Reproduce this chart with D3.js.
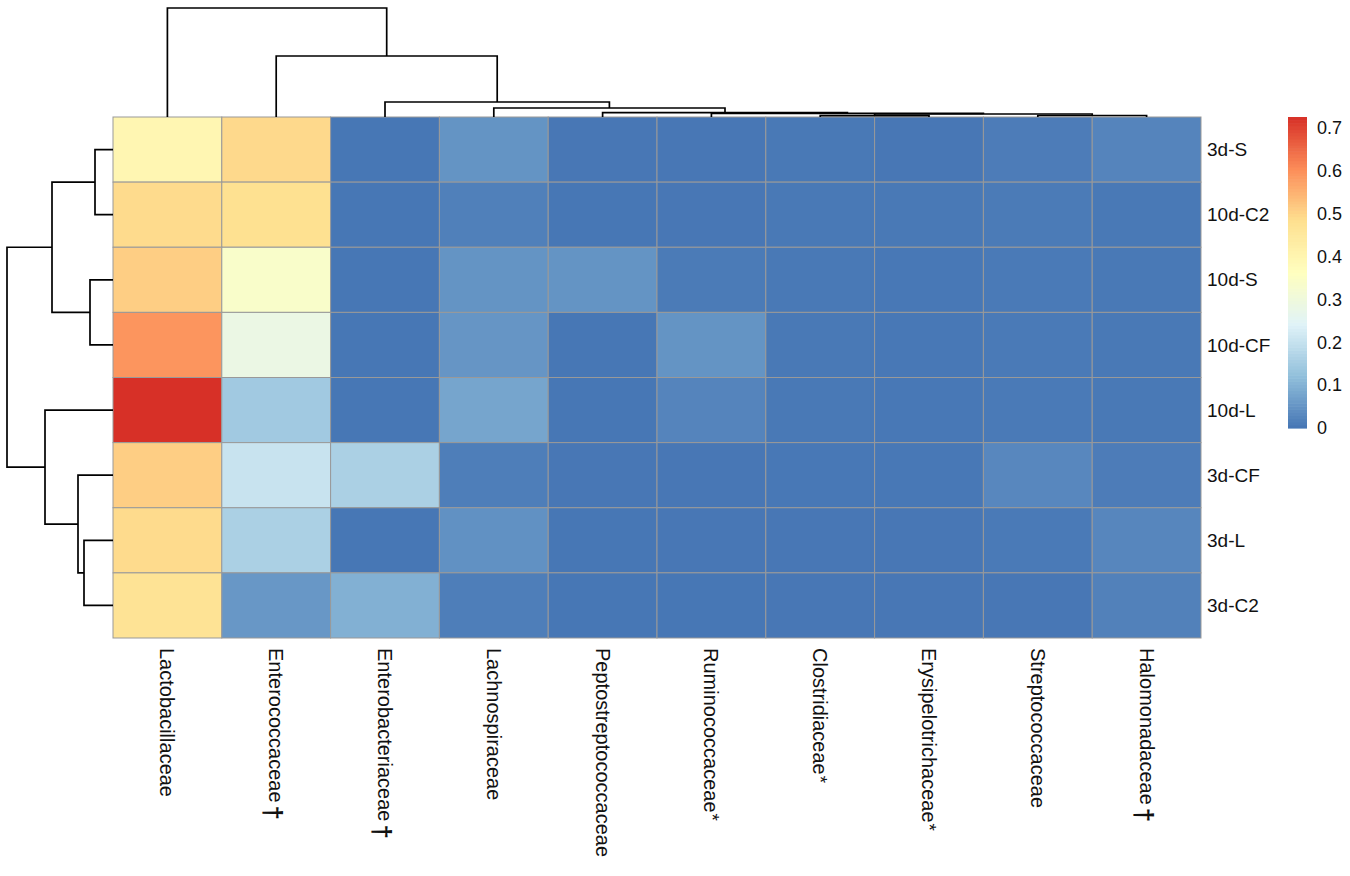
<!DOCTYPE html>
<html>
<head>
<meta charset="utf-8">
<script src="https://cdn.jsdelivr.net/npm/d3@7"></script>
<style>
  body { margin: 0; background: #fff; }
  text { font-family: "Liberation Sans", Arial, sans-serif; fill: #111; }
</style>
</head>
<body>
<svg id="chart"></svg>
<script>
// DATA
const colNames = ["Lactobacillaceae", "Enterococcaceae", "Enterobacteriaceae", "Lachnospiraceae",
  "Peptostreptococcaceae", "Ruminococcaceae", "Clostridiaceae", "Erysipelotrichaceae",
  "Streptococcaceae", "Halomonadaceae"];
const colMarks = ["", "†", "†", "", "", "*", "*", "*", "", "†"];
const rowNames = ["3d-S", "10d-C2", "10d-S", "10d-CF", "10d-L", "3d-CF", "3d-L", "3d-C2"];

const values = [
  [0.397, 0.493, 0.003, 0.050, 0.004, 0.004, 0.006, 0.004, 0.012, 0.025],
  [0.490, 0.480, 0.003, 0.018, 0.003, 0.004, 0.006, 0.006, 0.010, 0.006],
  [0.510, 0.340, 0.003, 0.050, 0.050, 0.010, 0.006, 0.005, 0.008, 0.006],
  [0.593, 0.285, 0.003, 0.052, 0.003, 0.050, 0.006, 0.005, 0.008, 0.006],
  [0.725, 0.145, 0.003, 0.078, 0.003, 0.025, 0.006, 0.005, 0.008, 0.006],
  [0.510, 0.205, 0.160, 0.015, 0.004, 0.004, 0.005, 0.005, 0.030, 0.012],
  [0.490, 0.160, 0.003, 0.045, 0.003, 0.004, 0.004, 0.004, 0.008, 0.028],
  [0.470, 0.055, 0.097, 0.015, 0.003, 0.003, 0.004, 0.004, 0.004, 0.020]
];

// hclust style merges: negative = leaf (1-based, display order), positive = earlier merge
const colMerge = [[-9, -10], [-7, -8], [2, 1], [-6, 3], [-5, 4], [-4, 5], [-3, 6], [-2, 7], [-1, 8]];
const colHeights = [0.015, 0.013, 0.03, 0.037, 0.043, 0.09, 0.15, 0.61, 1.09];
const rowMerge = [[-1, -2], [-3, -4], [-7, -8], [-6, 3], [1, 2], [-5, 4], [5, 6]];
const rowHeights = [0.18, 0.23, 0.29, 0.35, 0.61, 0.68, 1.06];

const legendTicks = [0, 0.1, 0.2, 0.3, 0.4, 0.5, 0.6, 0.7];
const palette = ["#4575B4", "#91BFDB", "#E0F3F8", "#FFFFBF", "#FEE090", "#FC8D59", "#D73027"];

// LAYOUT
const W = 1350, H = 876;
const grid = { left: 113, right: 1201, top: 117, bottom: 638 };

const svg = d3.select("#chart").attr("width", W).attr("height", H);

const x = d3.scaleBand().domain(colNames).range([grid.left, grid.right]);
const y = d3.scaleBand().domain(rowNames).range([grid.top, grid.bottom]);

const vmax = d3.max(values.flat());
const color = d3.scaleLinear()
  .domain(palette.map((c, i) => i * vmax / (palette.length - 1)))
  .range(palette)
  .interpolate(d3.interpolateRgb)
  .clamp(true);

// CELLS
const cells = [];
values.forEach((row, i) => row.forEach((v, j) => cells.push({ r: rowNames[i], c: colNames[j], v })));

svg.append("g").selectAll("rect")
  .data(cells)
  .join("rect")
  .attr("x", d => x(d.c))
  .attr("y", d => y(d.r))
  .attr("width", x.bandwidth())
  .attr("height", y.bandwidth())
  .attr("fill", d => color(d.v))
  .attr("stroke", "#999999")
  .attr("stroke-width", 1);

// DENDROGRAMS
function buildTree(merge, heights, leafPos) {
  const nodes = [];
  const get = id => id < 0 ? { pos: leafPos[-id - 1], h: 0 } : nodes[id - 1];
  merge.forEach((m, i) => {
    const a = get(m[0]), b = get(m[1]);
    nodes.push({ a, b, h: heights[i], pos: (a.pos + b.pos) / 2 });
  });
  return nodes;
}

// column tree (top)
const colH = d3.scaleLinear().domain([0, d3.max(colHeights)]).range([grid.top, 8]);
const colTree = buildTree(colMerge, colHeights, colNames.map(c => x(c) + x.bandwidth() / 2));
svg.append("g").selectAll("path")
  .data(colTree)
  .join("path")
  .attr("fill", "none")
  .attr("stroke", "#000")
  .attr("stroke-width", 1.7)
  .attr("d", n => `M${n.a.pos},${colH(n.a.h)}V${colH(n.h)}H${n.b.pos}V${colH(n.b.h)}`);

// row tree (left)
const rowH = d3.scaleLinear().domain([0, d3.max(rowHeights)]).range([grid.left, 7]);
const rowTree = buildTree(rowMerge, rowHeights, rowNames.map(r => y(r) + y.bandwidth() / 2));
svg.append("g").selectAll("path")
  .data(rowTree)
  .join("path")
  .attr("fill", "none")
  .attr("stroke", "#000")
  .attr("stroke-width", 1.7)
  .attr("d", n => `M${rowH(n.a.h)},${n.a.pos}H${rowH(n.h)}V${n.b.pos}H${rowH(n.b.h)}`);

// ROW LABELS
svg.append("g").selectAll("text")
  .data(rowNames)
  .join("text")
  .attr("x", grid.right + 6)
  .attr("y", d => y(d) + y.bandwidth() / 2)
  .attr("dy", "0.35em")
  .attr("font-size", "19px")
  .text(d => d);

// COLUMN LABELS (rotated, reading downwards)
const colLabelTop = 648;
const colG = svg.append("g");
colNames.forEach((name, j) => {
  const cx = x(name) + x.bandwidth() / 2;
  const g = colG.append("g").attr("transform", `translate(${cx},${colLabelTop}) rotate(90)`);
  const t = g.append("text")
    .attr("dy", "0.35em")
    .attr("font-size", "20px")
    .text(name);
  const len = t.node().getComputedTextLength();
  const mark = colMarks[j];
  if (mark === "*") {
    g.append("text")
      .attr("x", len + 1)
      .attr("dy", "0.3em")
      .attr("font-size", "19px")
      .text("*");
  } else if (mark) {
    g.append("text")
      .attr("x", len + 3)
      .attr("dy", "0.45em")
      .attr("font-size", "26px")
      .attr("font-weight", "bold")
      .text(mark);
  }
});

// LEGEND
const legend = { x: 1288, w: 19, top: 117, bottom: 428 };
const legendScale = d3.scaleLinear().domain([0, vmax]).range([legend.bottom, legend.top]);
const steps = d3.range(100).map(i => i * vmax / 100);
const stepH = (legend.bottom - legend.top) / 100;

svg.append("g").selectAll("rect")
  .data(steps)
  .join("rect")
  .attr("x", legend.x)
  .attr("y", d => legendScale(d) - stepH)
  .attr("width", legend.w)
  .attr("height", stepH + 0.6)
  .attr("fill", d => color(d + vmax / 200));

svg.append("g").selectAll("text")
  .data(legendTicks)
  .join("text")
  .attr("x", legend.x + legend.w + 10)
  .attr("y", d => legendScale(d))
  .attr("dy", "0.35em")
  .attr("font-size", "18px")
  .text(d => d3.format("~g")(d));
</script>
</body>
</html>
